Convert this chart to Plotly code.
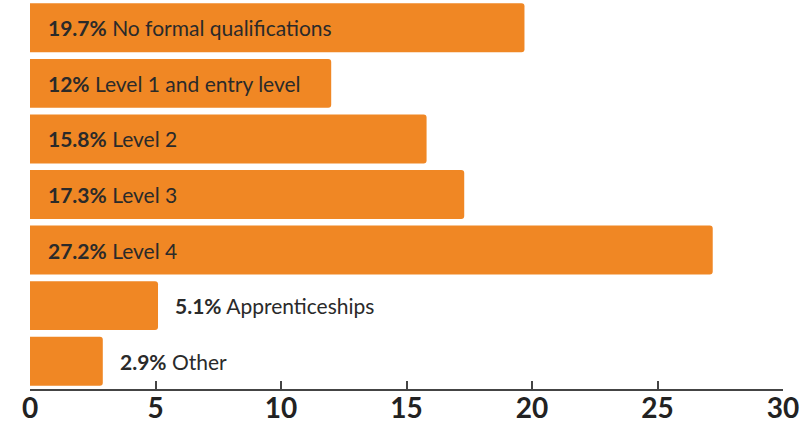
import plotly.graph_objects as go

categories = ["No formal qualifications", "Level 1 and entry level", "Level 2", "Level 3",
              "Level 4", "Apprenticeships", "Other"]
values = [19.7, 12, 15.8, 17.3, 27.2, 5.1, 2.9]
value_labels = ["19.7%", "12%", "15.8%", "17.3%", "27.2%", "5.1%", "2.9%"]
inside = [True, True, True, True, True, False, False]
tick_vals = [0, 5, 10, 15, 20, 25, 30]

color = "#F08724"
fig = go.Figure(go.Bar(
    x=values, y=categories, orientation="h",
    marker=dict(color=color, line=dict(width=0)),
    hoverinfo="skip",
))

annotations = []
for cat, v, lab, ins in zip(categories, values, value_labels, inside):
    annotations.append(dict(
        x=0 if ins else v, y=cat, xref="x", yref="y",
        xanchor="left", yanchor="middle",
        xshift=16 if ins else 15,
        text=f"<b>{lab}</b> {cat}", showarrow=False,
        font=dict(family="Lato", size=21, color="#2a2a2a"),
    ))

fig.update_layout(
    width=806, height=425,
    margin=dict(l=30, r=23, t=0, b=36),
    paper_bgcolor="white", plot_bgcolor="white",
    bargap=0.12, barcornerradius=3,
    showlegend=False,
    annotations=annotations,
    xaxis=dict(
        range=[0, 30], tickvals=tick_vals, showgrid=False, zeroline=False,
        showline=True, linecolor="#444", linewidth=1.5,
        ticks="inside", ticklen=8, tickcolor="#444", tickwidth=1.5,
        tickfont=dict(family="Lato", size=28, color="#222", weight="bold"),
        automargin=False, ticklabelstandoff=-6,
        fixedrange=True,
    ),
    yaxis=dict(
        categoryorder="array", categoryarray=categories, autorange="reversed",
        showticklabels=False, showgrid=False, zeroline=False, showline=False,
        fixedrange=True, automargin=False,
    ),
)

fig.write_html("out.html")
